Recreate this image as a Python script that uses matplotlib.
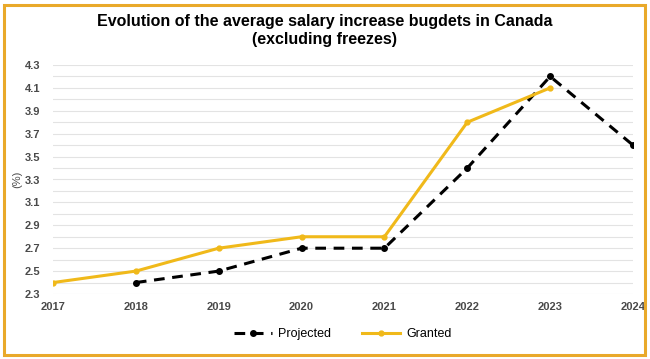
import matplotlib.pyplot as plt
from matplotlib.patches import Rectangle

plt.rcParams['font.family'] = ['Liberation Sans', 'DejaVu Sans']

years = [2017, 2018, 2019, 2020, 2021, 2022, 2023, 2024]
projected_years = [2018, 2019, 2020, 2021, 2022, 2023, 2024]
projected = [2.4, 2.5, 2.7, 2.7, 3.4, 4.2, 3.6]
granted_years = [2017, 2018, 2019, 2020, 2021, 2022, 2023]
granted = [2.4, 2.5, 2.7, 2.8, 2.8, 3.8, 4.1]
yticks = [2.3, 2.5, 2.7, 2.9, 3.1, 3.3, 3.5, 3.7, 3.9, 4.1, 4.3]
grid_lines = [2.3 + 0.1 * i for i in range(21)]

gold = '#F0B91A'
txt = '#4a4a4a'

fig = plt.figure(figsize=(6.5, 3.59), dpi=100)
ax = fig.add_axes([53 / 650, 65 / 359, 580 / 650, 229 / 359])

for g in grid_lines:
    ax.axhline(g, color='#e3e3e3', lw=0.8, zorder=0)

ax.plot(projected_years, projected, color='black', lw=2.2, ls=(0, (3.5, 2.5)),
        marker='o', ms=4, label='Projected', zorder=3)
ax.plot(granted_years, granted, color=gold, lw=2.2, marker='o', ms=3.5,
        label='Granted', zorder=4)

ax.set_xlim(2017, 2024)
ax.set_ylim(2.3, 4.3)
ax.set_xticks(years)
ax.set_xticklabels([str(y) for y in years], fontsize=8, color=txt, fontweight='bold')
ax.set_yticks(yticks)
ax.set_yticklabels([f'{v:.1f}' for v in yticks], fontsize=8, color=txt, fontweight='bold')
ax.tick_params(axis='y', length=0, pad=9)
ax.tick_params(axis='x', length=0, pad=6)
for s in ax.spines.values():
    s.set_visible(False)
ax.set_ylabel('(%)', fontsize=8, color=txt)
ax.yaxis.set_label_coords(-0.053, 0.5)

fig.text(0.5, 0.915, 'Evolution of the average salary increase bugdets in Canada\n(excluding freezes)',
         ha='center', va='center', fontsize=11.5, fontweight='bold', linespacing=1.2)

leg = ax.legend(loc='upper center', bbox_to_anchor=(0.5, -0.1), ncol=2, frameon=False,
                fontsize=9, handlelength=3, columnspacing=2.5, handletextpad=0.5)

fig.patches.append(Rectangle((4 / 650, 4 / 359), 641 / 650, 350 / 359, transform=fig.transFigure,
                             fill=False, edgecolor='#E9A92A', lw=2.2))

fig.savefig('out.png', dpi=100)
